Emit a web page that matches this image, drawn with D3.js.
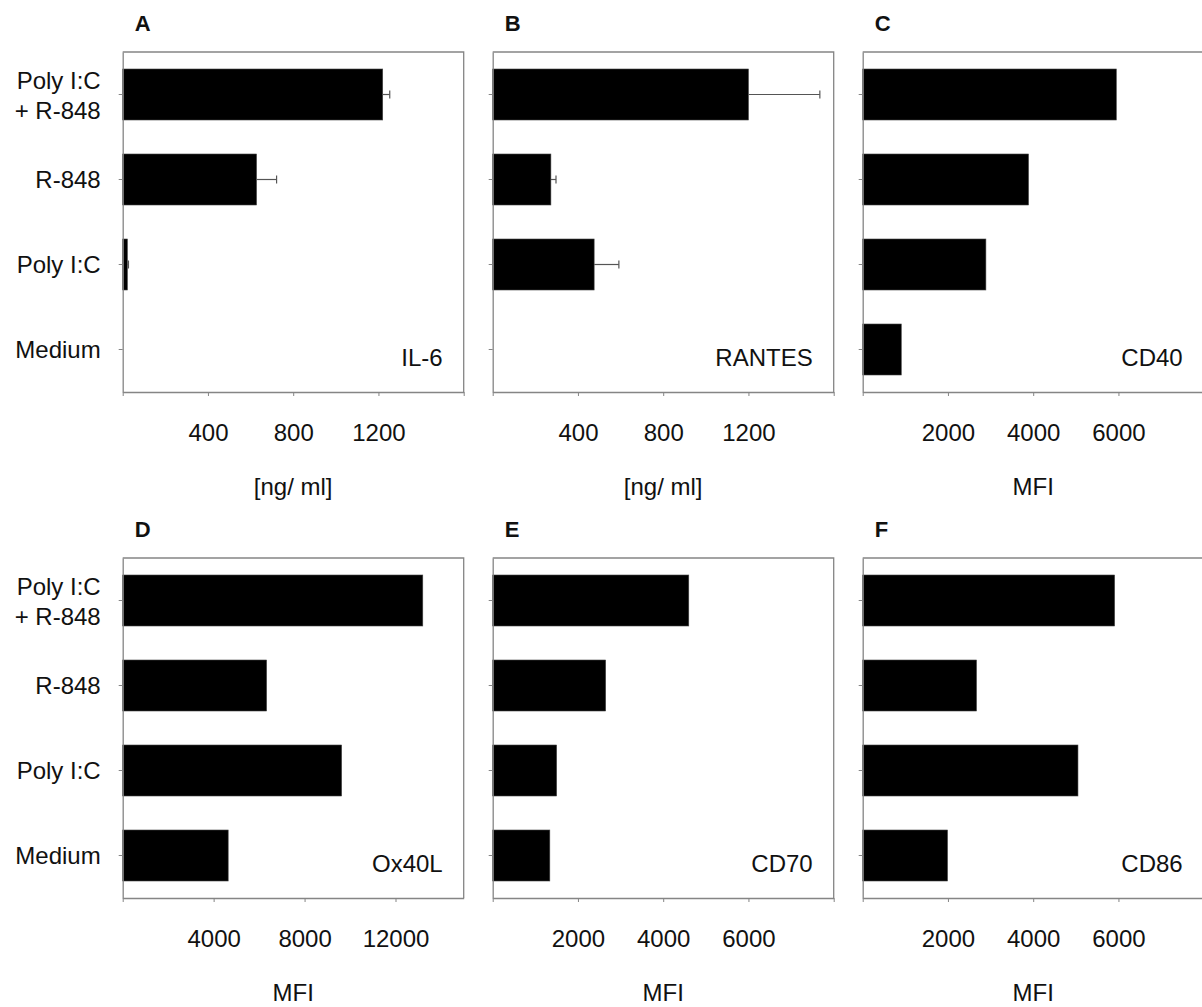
<!DOCTYPE html>
<html>
<head>
<meta charset="utf-8">
<script src="https://cdn.jsdelivr.net/npm/d3@7"></script>
<style>
  html, body { margin: 0; padding: 0; background: #fff; overflow: hidden; }
  svg { display: block; }
  text { font-family: "Liberation Sans", Arial, sans-serif; fill: #111; }
</style>
</head>
<body>
<svg id="fig" width="1202" height="1007"></svg>
<script>
// Stimulation conditions, top to bottom
const categories = ["Poly I:C + R-848", "R-848", "Poly I:C", "Medium"];
const categoryLines = [["Poly I:C", "+ R-848"], ["R-848"], ["Poly I:C"], ["Medium"]];

// Cytokine secretion [ng/ml] with SD
const il6Values = [1220, 628, 22, 0];
const il6Errors = [33, 94, 5, 0];
const rantesValues = [1200, 273, 476, 0];
const rantesErrors = [335, 24, 116, 0];

// Surface marker expression (MFI)
const cd40Values = [5950, 3890, 2890, 905];
const ox40lValues = [13200, 6330, 9630, 4640];
const cd70Values = [4600, 2650, 1500, 1340];
const cd86Values = [5910, 2670, 5050, 1990];

// Axis ticks
const ngTicks = [0, 400, 800, 1200, 1600];
const ngLabels = ["", "400", "800", "1200", ""];
const ox40lTicks = [0, 4000, 8000, 12000];
const ox40lLabels = ["", "4000", "8000", "12000"];
const mfiTicks = [0, 2000, 4000, 6000, 8000];
const mfiLabels = ["", "2000", "4000", "6000", ""];

const panels = [
  { letter: "A", name: "IL-6",   values: il6Values,    errors: il6Errors,    max: 1600,  ticks: ngTicks,    labels: ngLabels,    unit: "[ng/ ml]", col: 0, row: 0 },
  { letter: "B", name: "RANTES", values: rantesValues, errors: rantesErrors, max: 1600,  ticks: ngTicks,    labels: ngLabels,    unit: "[ng/ ml]", col: 1, row: 0 },
  { letter: "C", name: "CD40",   values: cd40Values,   errors: null,         max: 8000,  ticks: mfiTicks,   labels: mfiLabels,   unit: "MFI",      col: 2, row: 0 },
  { letter: "D", name: "Ox40L",  values: ox40lValues,  errors: null,         max: 15000, ticks: ox40lTicks, labels: ox40lLabels, unit: "MFI",      col: 0, row: 1 },
  { letter: "E", name: "CD70",   values: cd70Values,   errors: null,         max: 8000,  ticks: mfiTicks,   labels: mfiLabels,   unit: "MFI",      col: 1, row: 1 },
  { letter: "F", name: "CD86",   values: cd86Values,   errors: null,         max: 8000,  ticks: mfiTicks,   labels: mfiLabels,   unit: "MFI",      col: 2, row: 1 }
];

const colX = [122.7, 492.7, 862.7];
const rowY = [52, 558];
const W = 341, H = 340;
const axisColor = "#858585";

// keep the lowest titles inside the visible page
const pageH = Math.min(1007, window.innerHeight || 1007);

const svg = d3.select("#fig");

panels.forEach(p => {
  const g = svg.append("g").attr("transform", `translate(${colX[p.col]},${rowY[p.row]})`);

  const x = d3.scaleLinear().domain([0, p.max]).range([0, W]);
  const y = d3.scaleBand().domain(categories).range([0, H]).paddingInner(0.4).paddingOuter(0.2);

  // frame (top and right sides)
  g.append("path")
    .attr("d", `M0,0H${W}V${H}`)
    .attr("fill", "none").attr("stroke", axisColor).attr("stroke-width", 1.3);

  // bars
  g.selectAll("rect.bar").data(p.values).join("rect")
    .attr("class", "bar")
    .attr("x", 0)
    .attr("y", (d, i) => y(categories[i]))
    .attr("width", d => x(d))
    .attr("height", y.bandwidth())
    .attr("fill", "#000")
    .attr("stroke", "#444").attr("stroke-width", 0.6);

  // one-sided error bars
  if (p.errors) {
    const eb = g.selectAll("g.err").data(p.values.map((v, i) => ({ v, e: p.errors[i], c: categories[i] })).filter(d => d.e > 0))
      .join("g").attr("class", "err")
      .attr("stroke", "#555").attr("stroke-width", 1.2);
    eb.append("line")
      .attr("x1", d => x(d.v)).attr("x2", d => x(d.v + d.e))
      .attr("y1", d => y(d.c) + y.bandwidth() / 2).attr("y2", d => y(d.c) + y.bandwidth() / 2);
    eb.append("line")
      .attr("x1", d => x(d.v + d.e)).attr("x2", d => x(d.v + d.e))
      .attr("y1", d => y(d.c) + y.bandwidth() / 2 - 4).attr("y2", d => y(d.c) + y.bandwidth() / 2 + 4);
  }

  // category axis
  const ya = g.append("g").call(d3.axisLeft(y).tickSize(4).tickSizeOuter(0).tickFormat(""));
  ya.select(".domain").attr("stroke", axisColor).attr("stroke-width", 1.3);
  ya.selectAll(".tick line").attr("stroke", axisColor);

  // value axis
  const xa = g.append("g").attr("transform", `translate(0,${H})`)
    .call(d3.axisBottom(x).tickValues(p.ticks).tickSize(4).tickSizeOuter(0).tickPadding(28)
      .tickFormat((d, i) => p.labels[i]));
  xa.select(".domain").attr("stroke", axisColor).attr("stroke-width", 1.3);
  xa.selectAll(".tick text").attr("font-size", 24).attr("fill", "#111")
    .attr("font-family", '"Liberation Sans", Arial, sans-serif');
  xa.selectAll(".tick line").attr("stroke", axisColor);

  // unit title
  const unitY = Math.min(H + 95, pageH - rowY[p.row] - 14);
  g.append("text").attr("x", W / 2).attr("y", unitY).attr("dy", "0.35em")
    .attr("text-anchor", "middle").attr("font-size", 24).text(p.unit);

  // marker name inside the plot
  g.append("text").attr("x", W - 21).attr("y", H - 34).attr("dy", "0.35em")
    .attr("text-anchor", "end").attr("font-size", 24).text(p.name);

  // panel letter
  g.append("text").attr("x", 12).attr("y", -29).attr("dy", "0.35em")
    .attr("font-size", 22).attr("font-weight", "bold").text(p.letter);

  // condition labels on the left column
  if (p.col === 0) {
    categories.forEach((c, i) => {
      const lines = categoryLines[i];
      const cy = y(c) + y.bandwidth() / 2;
      const t = g.append("text").attr("text-anchor", "end").attr("font-size", 24);
      lines.forEach((ln, j) => {
        const off = lines.length === 1 ? 0 : (j === 0 ? -14 : 16);
        t.append("tspan").attr("x", -22).attr("y", cy + off).attr("dy", "0.35em").text(ln);
      });
    });
  }
});
</script>
</body>
</html>
